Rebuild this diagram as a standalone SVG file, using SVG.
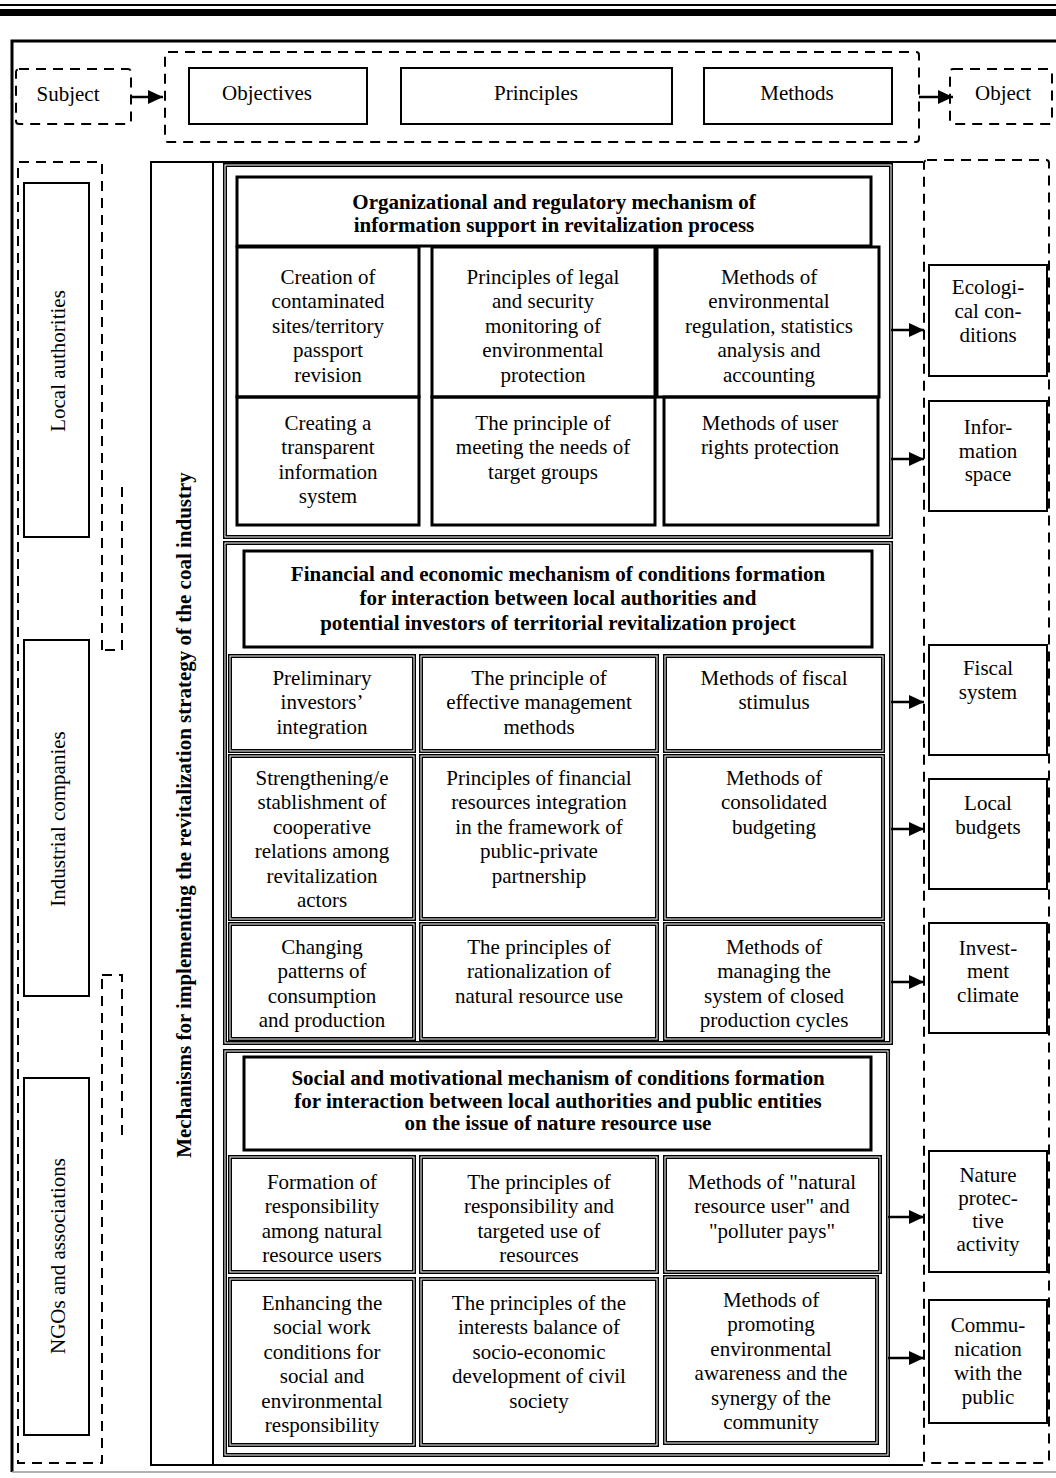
<svg xmlns="http://www.w3.org/2000/svg" width="1056" height="1478" viewBox="0 0 1056 1478">
<style>
.bg{fill:#fff}
.solid{fill:none;stroke:#000;stroke-width:2}
.thick{fill:none;stroke:#000;stroke-width:3}
.dash{fill:none;stroke:#000;stroke-width:2;stroke-dasharray:10 7}
.dblo{fill:none;stroke:#000;stroke-width:4}
.dbli{fill:none;stroke:#fff;stroke-width:1}
.t{font-family:"Liberation Serif","Times New Roman",serif;font-size:21px;text-anchor:middle;fill:#000}
.b{font-weight:bold}
.conn{fill:none;stroke:#000;stroke-width:2.5}
</style>
<defs>
<marker id="ah" markerUnits="userSpaceOnUse" markerWidth="16" markerHeight="16" refX="15" refY="8" orient="auto">
<path d="M0,1 L15,8 L0,15 z" fill="#000"/>
</marker>
</defs>
<rect class="bg" x="0" y="0" width="1056" height="1478"/>

<g id="page-rules">
<rect x="0" y="4" width="1056" height="2" fill="#000"/>
<rect x="0" y="9" width="1056" height="7" fill="#000"/>
<path d="M12,1472 V41 H1056" fill="none" stroke="#000" stroke-width="3"/>
<path d="M12,1472 H1056" fill="none" stroke="#999" stroke-width="1.5"/>
</g>

<g id="subject">
<rect class="dash" x="16" y="69" width="115" height="55" rx="3"/>
<text class="t" x="68" y="101">Subject</text>
</g>

<g id="management-group">
<rect class="dash" x="165" y="52" width="754" height="90" rx="3"/>
</g>
<g id="objectives">
<rect class="solid" x="189" y="68" width="178" height="56"/>
<text class="t" x="267" y="100">Objectives</text>
</g>
<g id="principles">
<rect class="solid" x="401" y="68" width="271" height="56"/>
<text class="t" x="536" y="100">Principles</text>
</g>
<g id="methods">
<rect class="solid" x="704" y="68" width="188" height="56"/>
<text class="t" x="797" y="100">Methods</text>
</g>
<g id="object">
<rect class="dash" x="950" y="69" width="102" height="55" rx="3"/>
<text class="t" x="1003" y="100">Object</text>
</g>

<g id="subjects-group">
<path class="dash" d="M102,650 V162 H18 V1463 H102 V975"/>
<path class="dash" d="M122,487 V650 H102"/>
<path class="dash" d="M102,975 H122 V1135"/>
</g>
<g id="local-authorities">
<rect class="solid" x="24" y="183" width="65" height="354"/>
<text class="t" transform="translate(58,361) rotate(-90)" x="0" y="7">Local authorities</text>
</g>
<g id="industrial-companies">
<rect class="solid" x="24" y="640" width="65" height="356"/>
<text class="t" transform="translate(58,819) rotate(-90)" x="0" y="7">Industrial companies</text>
</g>
<g id="ngos">
<rect class="solid" x="24" y="1078" width="65" height="357"/>
<text class="t" transform="translate(58,1256) rotate(-90)" x="0" y="7">NGOs and associations</text>
</g>

<g id="mechanisms">
<path class="solid" d="M923,162 H151 V1465 H923"/>
<path class="solid" d="M213,162 V1465"/>
<text class="t b" transform="translate(184,815) rotate(-90)" x="0" y="7">Mechanisms for implementing the revitalization strategy of the coal industry</text>
</g>

<g id="section-organizational">
<rect class="dblo" x="225" y="165" width="666" height="372"/>
<rect class="dbli" x="225" y="165" width="666" height="372"/>
<rect class="thick" x="237" y="177" width="634" height="69"/>
<text class="t b" x="554" y="209">Organizational and regulatory mechanism of</text>
<text class="t b" x="554" y="232">information support in revitalization process</text>
</g>
<g id="org-cell-1">
<rect class="thick" x="237" y="247" width="182" height="150"/>
<text class="t"><tspan x="328" y="284">Creation of</tspan><tspan x="328" y="308">contaminated</tspan><tspan x="328" y="333">sites/territory</tspan><tspan x="328" y="357">passport</tspan><tspan x="328" y="382">revision</tspan></text>
</g>
<g id="org-cell-2">
<rect class="thick" x="432" y="247" width="223" height="150"/>
<text class="t"><tspan x="543" y="284">Principles of legal</tspan><tspan x="543" y="308">and security</tspan><tspan x="543" y="333">monitoring of</tspan><tspan x="543" y="357">environmental</tspan><tspan x="543" y="382">protection</tspan></text>
</g>
<g id="org-cell-3">
<rect class="thick" x="657" y="247" width="222" height="150"/>
<text class="t"><tspan x="769" y="284">Methods of</tspan><tspan x="769" y="308">environmental</tspan><tspan x="769" y="333">regulation, statistics</tspan><tspan x="769" y="357">analysis and</tspan><tspan x="769" y="382">accounting</tspan></text>
</g>
<g id="org-cell-4">
<rect class="thick" x="237" y="397" width="182" height="128"/>
<text class="t"><tspan x="328" y="430">Creating a</tspan><tspan x="328" y="454">transparent</tspan><tspan x="328" y="479">information</tspan><tspan x="328" y="503">system</tspan></text>
</g>
<g id="org-cell-5">
<rect class="thick" x="432" y="397" width="223" height="128"/>
<text class="t"><tspan x="543" y="430">The principle of</tspan><tspan x="543" y="454">meeting the needs of</tspan><tspan x="543" y="479">target groups</tspan></text>
</g>
<g id="org-cell-6">
<rect class="thick" x="664" y="397" width="214" height="128"/>
<text class="t"><tspan x="770" y="430">Methods of user</tspan><tspan x="770" y="454">rights protection</tspan></text>
</g>

<g id="section-financial">
<rect class="dblo" x="225" y="543" width="666" height="500"/>
<rect class="dbli" x="225" y="543" width="666" height="500"/>
<rect class="thick" x="244" y="551" width="628" height="96"/>
<text class="t b" x="558" y="581">Financial and economic mechanism of conditions formation</text>
<text class="t b" x="558" y="605">for interaction between local authorities and</text>
<text class="t b" x="558" y="630">potential investors of territorial revitalization project</text>
</g>
<g id="fin-cell-1">
<rect class="dblo" x="230" y="656" width="184" height="95"/><rect class="dbli" x="230" y="656" width="184" height="95"/>
<text class="t"><tspan x="322" y="685">Preliminary</tspan><tspan x="322" y="709">investors’</tspan><tspan x="322" y="734">integration</tspan></text>
</g>
<g id="fin-cell-2">
<rect class="dblo" x="421" y="656" width="236" height="95"/><rect class="dbli" x="421" y="656" width="236" height="95"/>
<text class="t"><tspan x="539" y="685">The principle of</tspan><tspan x="539" y="709">effective management</tspan><tspan x="539" y="734">methods</tspan></text>
</g>
<g id="fin-cell-3">
<rect class="dblo" x="665" y="656" width="218" height="95"/><rect class="dbli" x="665" y="656" width="218" height="95"/>
<text class="t"><tspan x="774" y="685">Methods of fiscal</tspan><tspan x="774" y="709">stimulus</tspan></text>
</g>
<g id="fin-cell-4">
<rect class="dblo" x="230" y="756" width="184" height="163"/><rect class="dbli" x="230" y="756" width="184" height="163"/>
<text class="t"><tspan x="322" y="785">Strengthening/e</tspan><tspan x="322" y="809">stablishment of</tspan><tspan x="322" y="834">cooperative</tspan><tspan x="322" y="858">relations among</tspan><tspan x="322" y="883">revitalization</tspan><tspan x="322" y="907">actors</tspan></text>
</g>
<g id="fin-cell-5">
<rect class="dblo" x="421" y="756" width="236" height="163"/><rect class="dbli" x="421" y="756" width="236" height="163"/>
<text class="t"><tspan x="539" y="785">Principles of financial</tspan><tspan x="539" y="809">resources integration</tspan><tspan x="539" y="834">in the framework of</tspan><tspan x="539" y="858">public-private</tspan><tspan x="539" y="883">partnership</tspan></text>
</g>
<g id="fin-cell-6">
<rect class="dblo" x="665" y="756" width="218" height="163"/><rect class="dbli" x="665" y="756" width="218" height="163"/>
<text class="t"><tspan x="774" y="785">Methods of</tspan><tspan x="774" y="809">consolidated</tspan><tspan x="774" y="834">budgeting</tspan></text>
</g>
<g id="fin-cell-7">
<rect class="dblo" x="230" y="924" width="184" height="115"/><rect class="dbli" x="230" y="924" width="184" height="115"/>
<text class="t"><tspan x="322" y="954">Changing</tspan><tspan x="322" y="978">patterns of</tspan><tspan x="322" y="1003">consumption</tspan><tspan x="322" y="1027">and production</tspan></text>
</g>
<g id="fin-cell-8">
<rect class="dblo" x="421" y="924" width="236" height="115"/><rect class="dbli" x="421" y="924" width="236" height="115"/>
<text class="t"><tspan x="539" y="954">The principles of</tspan><tspan x="539" y="978">rationalization of</tspan><tspan x="539" y="1003">natural resource use</tspan></text>
</g>
<g id="fin-cell-9">
<rect class="dblo" x="665" y="924" width="218" height="115"/><rect class="dbli" x="665" y="924" width="218" height="115"/>
<text class="t"><tspan x="774" y="954">Methods of</tspan><tspan x="774" y="978">managing the</tspan><tspan x="774" y="1003">system of closed</tspan><tspan x="774" y="1027">production cycles</tspan></text>
</g>

<g id="section-social">
<rect class="dblo" x="225" y="1051" width="663" height="404"/>
<rect class="dbli" x="225" y="1051" width="663" height="404"/>
<rect class="thick" x="244" y="1057" width="627" height="93"/>
<text class="t b" x="558" y="1085">Social and motivational mechanism of conditions formation</text>
<text class="t b" x="558" y="1108">for interaction between local authorities and public entities</text>
<text class="t b" x="558" y="1130">on the issue of nature resource use</text>
</g>
<g id="soc-cell-1">
<rect class="dblo" x="230" y="1157" width="184" height="115"/><rect class="dbli" x="230" y="1157" width="184" height="115"/>
<text class="t"><tspan x="322" y="1189">Formation of</tspan><tspan x="322" y="1213">responsibility</tspan><tspan x="322" y="1238">among natural</tspan><tspan x="322" y="1262">resource users</tspan></text>
</g>
<g id="soc-cell-2">
<rect class="dblo" x="421" y="1157" width="236" height="115"/><rect class="dbli" x="421" y="1157" width="236" height="115"/>
<text class="t"><tspan x="539" y="1189">The principles of</tspan><tspan x="539" y="1213">responsibility and</tspan><tspan x="539" y="1238">targeted use of</tspan><tspan x="539" y="1262">resources</tspan></text>
</g>
<g id="soc-cell-3">
<rect class="dblo" x="665" y="1157" width="215" height="115"/><rect class="dbli" x="665" y="1157" width="215" height="115"/>
<text class="t"><tspan x="772" y="1189">Methods of "natural</tspan><tspan x="772" y="1213">resource user" and</tspan><tspan x="772" y="1238">"polluter pays"</tspan></text>
</g>
<g id="soc-cell-4">
<rect class="dblo" x="230" y="1279" width="184" height="166"/><rect class="dbli" x="230" y="1279" width="184" height="166"/>
<text class="t"><tspan x="322" y="1310">Enhancing the</tspan><tspan x="322" y="1334">social work</tspan><tspan x="322" y="1359">conditions for</tspan><tspan x="322" y="1383">social and</tspan><tspan x="322" y="1408">environmental</tspan><tspan x="322" y="1432">responsibility</tspan></text>
</g>
<g id="soc-cell-5">
<rect class="dblo" x="421" y="1279" width="236" height="166"/><rect class="dbli" x="421" y="1279" width="236" height="166"/>
<text class="t"><tspan x="539" y="1310">The principles of the</tspan><tspan x="539" y="1334">interests balance of</tspan><tspan x="539" y="1359">socio-economic</tspan><tspan x="539" y="1383">development of civil</tspan><tspan x="539" y="1408">society</tspan></text>
</g>
<g id="soc-cell-6">
<rect class="dblo" x="665" y="1277" width="212" height="166"/><rect class="dbli" x="665" y="1277" width="212" height="166"/>
<text class="t"><tspan x="771" y="1307">Methods of</tspan><tspan x="771" y="1331">promoting</tspan><tspan x="771" y="1356">environmental</tspan><tspan x="771" y="1380">awareness and the</tspan><tspan x="771" y="1405">synergy of the</tspan><tspan x="771" y="1429">community</tspan></text>
</g>

<g id="objects-group">
<rect class="dash" x="924" y="160" width="125" height="1303" rx="3"/>
</g>
<g id="ecological-conditions">
<rect class="solid" x="929" y="265" width="118" height="111"/>
<text class="t"><tspan x="988" y="294">Ecologi-</tspan><tspan x="988" y="318">cal con-</tspan><tspan x="988" y="342">ditions</tspan></text>
</g>
<g id="information-space">
<rect class="solid" x="929" y="401" width="118" height="110"/>
<text class="t"><tspan x="988" y="434">Infor-</tspan><tspan x="988" y="458">mation</tspan><tspan x="988" y="481">space</tspan></text>
</g>
<g id="fiscal-system">
<rect class="solid" x="929" y="645" width="118" height="110"/>
<text class="t"><tspan x="988" y="675">Fiscal</tspan><tspan x="988" y="699">system</tspan></text>
</g>
<g id="local-budgets">
<rect class="solid" x="929" y="779" width="118" height="110"/>
<text class="t"><tspan x="988" y="810">Local</tspan><tspan x="988" y="834">budgets</tspan></text>
</g>
<g id="investment-climate">
<rect class="solid" x="929" y="923" width="118" height="110"/>
<text class="t"><tspan x="988" y="955">Invest-</tspan><tspan x="988" y="978">ment</tspan><tspan x="988" y="1002">climate</tspan></text>
</g>
<g id="nature-protective-activity">
<rect class="solid" x="929" y="1151" width="118" height="121"/>
<text class="t"><tspan x="988" y="1182">Nature</tspan><tspan x="988" y="1205">protec-</tspan><tspan x="988" y="1228">tive</tspan><tspan x="988" y="1251">activity</tspan></text>
</g>
<g id="communication-with-public">
<rect class="solid" x="929" y="1300" width="118" height="123"/>
<text class="t"><tspan x="988" y="1332">Commu-</tspan><tspan x="988" y="1356">nication</tspan><tspan x="988" y="1380">with the</tspan><tspan x="988" y="1404">public</tspan></text>
</g>

<g id="connectors">
<line class="conn" x1="131" y1="97" x2="163" y2="97" marker-end="url(#ah)"/>
<line class="conn" x1="919" y1="97" x2="953" y2="97" marker-end="url(#ah)"/>
<line class="conn" x1="891" y1="330" x2="924" y2="330" marker-end="url(#ah)"/>
<line class="conn" x1="891" y1="459" x2="924" y2="459" marker-end="url(#ah)"/>
<line class="conn" x1="891" y1="702" x2="924" y2="702" marker-end="url(#ah)"/>
<line class="conn" x1="891" y1="829" x2="924" y2="829" marker-end="url(#ah)"/>
<line class="conn" x1="891" y1="982" x2="924" y2="982" marker-end="url(#ah)"/>
<line class="conn" x1="888" y1="1217" x2="924" y2="1217" marker-end="url(#ah)"/>
<line class="conn" x1="888" y1="1358" x2="924" y2="1358" marker-end="url(#ah)"/>
</g>
</svg>
